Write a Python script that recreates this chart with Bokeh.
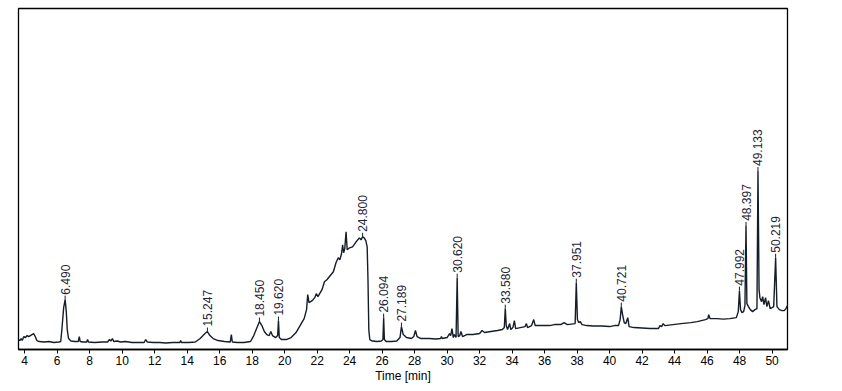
import numpy as np
from bokeh.plotting import figure
from bokeh.models import ColumnDataSource, FixedTicker, Range1d
from bokeh.core.properties import value
from bokeh.embed import file_html
from bokeh.resources import INLINE

# Retention time [min] and detector signal (arbitrary units)
time_min = [3.62, 3.70, 3.78, 3.85, 3.95, 4.05, 4.15, 4.25, 4.35, 4.45, 4.55, 4.65, 4.75, 4.90,
            5.2, 5.5, 5.8, 6.1, 6.22, 6.30, 6.40, 6.49, 6.56, 6.62, 6.70, 6.85, 7.1, 7.30, 7.36,
            7.42, 7.6, 7.82, 7.87, 7.93, 8.3, 8.8, 9.10, 9.22, 9.30, 9.40, 9.48, 9.7, 9.9, 10.2,
            10.6, 11.0, 11.35, 11.45, 11.55, 11.9, 12.3, 12.7, 13.1, 13.55, 13.60, 13.65, 14.1,
            14.5, 14.8, 15.1, 15.247, 15.4, 15.6, 15.9, 16.3, 16.65, 16.72, 16.78, 17.1, 17.5,
            17.9, 18.1, 18.3, 18.45, 18.6, 18.75, 18.9, 19.05, 19.15, 19.25, 19.45, 19.57, 19.62,
            19.67, 19.8, 20.1, 20.4, 20.7, 20.95, 21.2, 21.35, 21.42, 21.5, 21.7, 21.85, 21.95,
            22.05, 22.3, 22.45, 22.6, 22.85, 23.0, 23.16, 23.3, 23.4, 23.5, 23.57, 23.63, 23.7,
            23.78, 23.85, 24.0, 24.18, 24.4, 24.6, 24.7, 24.8, 24.9, 25.0, 25.08, 25.13, 25.18,
            25.24, 25.4, 25.7, 25.95, 26.05, 26.094, 26.14, 26.25, 26.6, 26.9, 27.1, 27.189, 27.3,
            27.5, 27.8, 27.95, 28.05, 28.15, 28.4, 28.9, 29.3, 29.6, 29.65, 29.7, 30.0, 30.15,
            30.22, 30.3, 30.38, 30.45, 30.55, 30.62, 30.68, 30.78, 30.85, 30.95, 31.2, 31.6, 32.0,
            32.15, 32.3, 32.7, 33.1, 33.4, 33.52, 33.58, 33.64, 33.72, 33.85, 33.92, 34.05, 34.14,
            34.22, 34.5, 34.8, 34.88, 34.95, 35.2, 35.33, 35.42, 35.8, 36.3, 36.6, 37.0, 37.2,
            37.4, 37.88, 37.951, 38.02, 38.1, 38.2, 38.3, 38.6, 39.0, 39.5, 40.0, 40.3, 40.55,
            40.65, 40.721, 40.8, 40.9, 41.0, 41.12, 41.2, 41.5, 42.0, 42.5, 43.0, 43.1, 43.2, 43.3,
            43.4, 43.9, 44.4, 45.0, 45.4, 45.9, 46.05, 46.1, 46.18, 46.6, 47.0, 47.4, 47.8, 47.92,
            47.992, 48.06, 48.15, 48.25, 48.33, 48.397, 48.45, 48.55, 48.66, 48.8, 48.95, 49.07,
            49.133, 49.2, 49.25, 49.35, 49.42, 49.5, 49.6, 49.68, 49.78, 49.88, 50.0, 50.1,
            50.219, 50.3, 50.45, 50.6, 50.75, 50.85, 50.95]
signal = [10, 9, 11, 9, 13, 12, 14, 13, 14, 15, 16, 13, 9, 8,
          7.5, 8, 7, 7.5, 8, 22, 42, 50, 38, 20, 11, 8.5, 8, 8, 13,
          8, 7.5, 7.5, 10, 7.5, 7, 7.5, 7.5, 10, 8.5, 11, 8, 8.5, 7.5, 8,
          7, 7, 7, 10, 7.5, 7, 7, 6.5, 7, 7, 9, 7, 7,
          7.5, 11, 16, 18, 14, 11, 9, 8, 7.5, 15, 7.5, 7, 7,
          8, 14, 22, 28, 24, 18, 15, 14, 18, 14, 12, 14, 29,
          12, 10, 10, 12, 17, 24, 31, 40, 55, 47, 49, 52, 56,
          53, 60, 68, 70, 75, 78, 87, 92, 90, 96, 105, 97, 101,
          118, 100, 102, 103, 108, 112, 110, 113, 112, 109, 103, 70, 20,
          10, 8.5, 8, 8.5, 10, 32, 10, 8, 8, 8.5, 12, 23, 15,
          12, 11, 13, 19, 13, 11, 11, 10.5, 11, 13, 11, 12, 16,
          14, 21, 12, 15, 12, 72, 13, 14, 18, 13, 15, 15, 16,
          19, 17, 18, 19, 20, 22, 41, 24, 20, 26, 20, 22, 29,
          21, 22, 23, 26, 22, 24, 30, 24, 24, 24, 25, 25, 27,
          25, 26, 67, 30, 27, 28, 25, 24, 23.5, 23.5, 23, 24, 24,
          30, 43, 35, 27, 26, 32, 23, 22, 21.5, 21, 21, 24, 23, 26,
          24, 25, 26, 27, 28, 30, 31, 35, 31, 31, 30.5, 31, 32, 38,
          59, 40, 37, 38, 44, 124, 46, 43, 40, 38, 40, 41,
          179, 60, 52, 48, 53, 45, 52, 43, 49, 41, 42, 43,
          92, 43, 40, 39, 39, 41, 44]

# Annotated peaks
peak_times = [6.490, 15.247, 18.450, 19.620, 24.800, 26.094, 27.189, 30.620, 33.580,
              37.951, 40.721, 47.992, 48.397, 49.133, 50.219]
peak_labels = ["6.490", "15.247", "18.450", "19.620", "24.800", "26.094", "27.189", "30.620",
               "33.580", "37.951", "40.721", "47.992", "48.397", "49.133", "50.219"]
x_ticks = list(range(4, 51, 2))

line_col = "#161c28"
font = "Liberation Sans"

p = figure(width=830, height=385, output_backend="svg", toolbar_location=None,
           x_range=Range1d(3.62, 50.95), y_range=Range1d(0, 342),
           min_border_left=18, min_border_right=43, min_border_top=8, min_border_bottom=0)

p.line(time_min, signal, line_color=line_col, line_width=1.4)

t_arr = np.array(time_min)
s_arr = np.array(signal)
peak_h = [float(s_arr[np.argmin(np.abs(t_arr - t))]) for t in peak_times]
src = ColumnDataSource(dict(x=peak_times, y=peak_h, y2=[h + 4 for h in peak_h], text=peak_labels))
p.segment(x0="x", y0="y", x1="x", y1="y2", source=src, line_color=line_col, line_width=1)
p.text(x="x", y="y2", text="text", source=src, angle=np.pi / 2, text_align="left",
       text_baseline="middle", text_font=value(font), text_font_size="12px",
       text_color="#1f2636", y_offset=-1)

p.yaxis.visible = False
p.xgrid.visible = False
p.ygrid.visible = False
p.outline_line_color = "black"
p.outline_line_width = 1.3
p.background_fill_color = "white"
p.border_fill_color = "white"

ax = p.xaxis[0]
ax.ticker = FixedTicker(ticks=x_ticks)
ax.axis_label = "Time [min]"
ax.axis_label_text_font = font
ax.axis_label_text_font_style = "normal"
ax.axis_label_text_font_size = "12px"
ax.axis_label_text_color = "black"
ax.axis_label_standoff = 1
ax.major_label_text_font = font
ax.major_label_text_font_size = "12px"
ax.major_label_text_color = "black"
ax.major_label_standoff = 2
ax.major_tick_in = 0
ax.major_tick_out = 4
ax.minor_tick_in = 0
ax.minor_tick_out = 0
ax.axis_line_width = 1.3
ax.axis_line_color = "black"
ax.major_tick_line_color = "black"

open("out.html", "w").write(file_html(p, INLINE))
